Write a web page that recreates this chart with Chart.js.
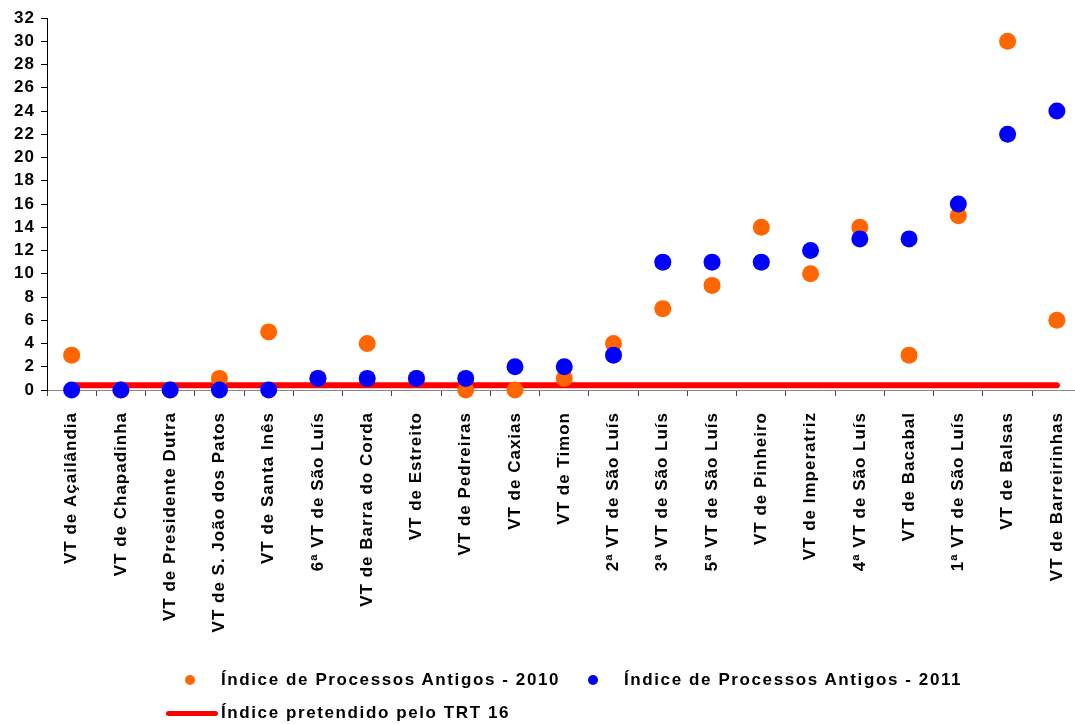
<!DOCTYPE html>
<html>
<head>
<meta charset="utf-8">
<script src="https://cdn.jsdelivr.net/npm/chart.js@4.4.1/dist/chart.umd.min.js"></script>
<style>
  html, body { margin: 0; padding: 0; background: #fff; overflow: hidden; }
  #wrap { position: relative; width: 1075px; height: 724px; overflow: hidden; }
  #c { position: absolute; left: 0; top: 0; }
  .leg { position: absolute; font-family: "Liberation Sans", Arial, sans-serif; font-weight: bold; font-size: 17px; letter-spacing: 1.6px; color: #000; white-space: nowrap; line-height: 20px; }
  .dot { position: absolute; width: 10px; height: 10px; border-radius: 50%; }
  .ln { position: absolute; height: 5px; border-radius: 3px; background: #FF0000; }
</style>
</head>
<body>
<div id="wrap">
  <canvas id="c" width="1090" height="724"></canvas>
  <div class="dot" style="left:185px; top:675px; background:#FF6600"></div>
  <div class="leg" style="left:221px; top:670px">Índice de Processos Antigos - 2010</div>
  <div class="dot" style="left:588px; top:675px; background:#0000FF"></div>
  <div class="leg" style="left:624px; top:670px">Índice de Processos Antigos - 2011</div>
  <div class="ln" style="left:166px; top:711px; width:52px"></div>
  <div class="leg" style="left:221px; top:703px">Índice pretendido pelo TRT 16</div>
</div>
<script>
const categories = [
  "VT de Açailândia", "VT de Chapadinha", "VT de Presidente Dutra", "VT de S. João dos Patos",
  "VT de Santa Inês", "6ª VT de São Luís", "VT de Barra do Corda", "VT de Estreito",
  "VT de Pedreiras", "VT de Caxias", "VT de Timon", "2ª VT de São Luís", "3ª VT de São Luís",
  "5ª VT de São Luís", "VT de Pinheiro", "VT de Imperatriz", "4ª VT de São Luís", "VT de Bacabal",
  "1ª VT de São Luís", "VT de Balsas", "VT de Barreirinhas"
];
const values2010 = [3, 0, 0, 1, 5, 1, 4, 1, 0, 0, 1, 4, 7, 9, 14, 10, 14, 3, 15, 30, 6];
const values2011 = [0, 0, 0, 0, 0, 1, 1, 1, 1, 2, 2, 3, 11, 11, 11, 12, 13, 13, 16, 22, 24];
const targetValue = 0.4;
const targetLine = categories.map(() => targetValue);
const yTicks = [0, 2, 4, 6, 8, 10, 12, 14, 16, 18, 20, 22, 24, 26, 28, 30, 32];

const spacing = {
  id: 'spacing',
  beforeUpdate(chart) { chart.ctx.letterSpacing = '1px'; },
  beforeDraw(chart) { chart.ctx.letterSpacing = '1px'; }
};

new Chart(document.getElementById('c'), {
  type: 'line',
  data: {
    labels: categories,
    datasets: [
      { label: 'Índice de Processos Antigos - 2011', data: values2011, showLine: false,
        pointRadius: 8.5, pointHoverRadius: 8.5, pointBackgroundColor: '#0000FF', pointBorderWidth: 0,
        borderColor: '#0000FF', backgroundColor: '#0000FF', clip: false, order: 0 },
      { label: 'Índice de Processos Antigos - 2010', data: values2010, showLine: false,
        pointRadius: 8.5, pointHoverRadius: 8.5, pointBackgroundColor: '#FF6600', pointBorderWidth: 0,
        borderColor: '#FF6600', backgroundColor: '#FF6600', clip: false, order: 1 },
      { label: 'Índice pretendido pelo TRT 16', data: targetLine, borderColor: '#FF0000',
        borderWidth: 6, pointRadius: 0, borderCapStyle: 'round', clip: false, order: 2, tension: 0 }
    ]
  },
  options: {
    responsive: false,
    animation: false,
    devicePixelRatio: 1,
    layout: { padding: { top: 18, left: 0, right: 7, bottom: 0 } },
    plugins: { legend: { display: false }, tooltip: { enabled: false } },
    scales: {
      x: {
        offset: true,
        grid: { offset: true, drawOnChartArea: false, drawTicks: true, tickLength: 6, color: '#444' },
        border: { color: '#888', width: 1 },
        ticks: { color: '#000', font: { family: '"Liberation Sans", Arial, sans-serif', size: 17, weight: 'bold' },
                 maxRotation: 90, minRotation: 90, padding: 16, autoSkip: false },
        afterFit(s) { s.height = 724 - 390; s.paddingLeft = 0; s.paddingRight = 0; }
      },
      y: {
        min: 0, max: 32,
        afterBuildTicks(s) { s.ticks = yTicks.map(v => ({ value: v })); },
        grid: { drawOnChartArea: false, drawTicks: true, tickLength: 6, color: '#000' },
        border: { color: '#000', width: 1 },
        ticks: { color: '#000', font: { family: '"Liberation Sans", Arial, sans-serif', size: 17, weight: 'bold' },
                 padding: 6, autoSkip: false },
        afterFit(s) { s.width = 47; }
      }
    }
  },
  plugins: [spacing]
});
</script>
</body>
</html>
